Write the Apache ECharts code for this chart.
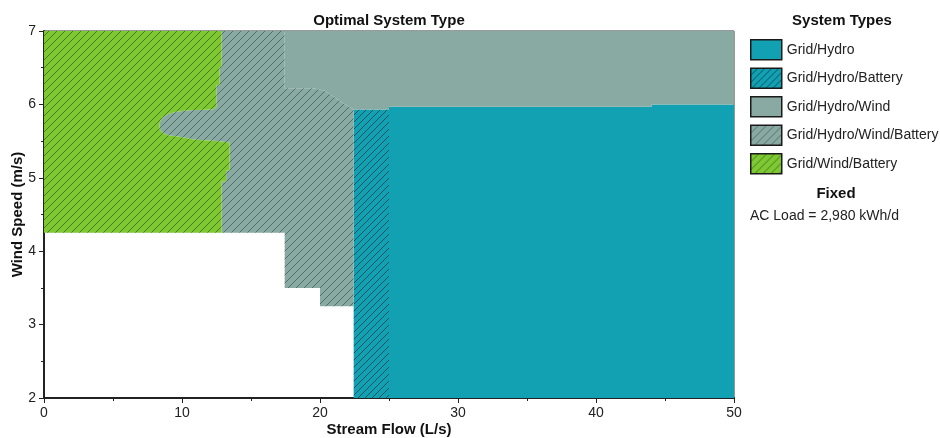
<!DOCTYPE html>
<html><head><meta charset="utf-8">
<script src="https://cdn.jsdelivr.net/npm/echarts@6/dist/echarts.min.js"></script>
<style>html,body{margin:0;padding:0;background:#fff}#c{width:940px;height:438px}</style>
</head><body><div id="c"></div>
<script>
// ---- data (Stream Flow L/s, Wind Speed m/s) ----
const systemTypes = ['Grid/Hydro', 'Grid/Hydro/Battery', 'Grid/Hydro/Wind', 'Grid/Hydro/Wind/Battery', 'Grid/Wind/Battery'];
const xRange = [0, 50];
const yRange = [2, 7];
const xTickStep = 10;
const yTickStep = 1;
const fixedLabel = 'AC Load = 2,980 kWh/d';

const gridHydro = [[25.0,2],[25.0,5.967],[44.03,5.967],[44.03,6.0],[50,6.0],[50,2]];
const gridHydroBattery = [[22.44,2],[22.44,5.93],[25.0,5.93],[25.0,2]];
const gridHydroWind = [[17.44,7],[50,7],[50,6.0],[44.03,6.0],[44.03,5.967],[25.0,5.967],[25.0,5.93],[22.44,5.93],
  [22.2,5.96],[21.67,6.02],[20.94,6.11],[20.3,6.19],[19.5,6.22],[17.44,6.22]];
const gridWindBattery = [[0,4.25],[0,7],[12.87,7],[12.87,6.51],[12.73,6.51],[12.73,6.26],[12.49,6.26],[12.49,5.96],
  [12.2,5.93],[10.5,5.92],[9.6,5.9],[9.0,5.87],[8.6,5.82],[8.42,5.77],[8.35,5.72],[8.4,5.66],[8.6,5.61],[9.0,5.58],
  [9.8,5.56],[11.0,5.52],[12.5,5.5],[13.45,5.48],[13.45,5.1],[13.2,5.1],[13.2,4.95],[12.87,4.95],[12.87,4.25]];
const gridHydroWindBattery = [[12.87,7],[12.87,6.51],[12.73,6.51],[12.73,6.26],[12.49,6.26],[12.49,5.96],
  [12.2,5.93],[10.5,5.92],[9.6,5.9],[9.0,5.87],[8.6,5.82],[8.42,5.77],[8.35,5.72],[8.4,5.66],[8.6,5.61],[9.0,5.58],
  [9.8,5.56],[11.0,5.52],[12.5,5.5],[13.45,5.48],[13.45,5.1],[13.2,5.1],[13.2,4.95],[12.87,4.95],[12.87,4.25],
  [17.44,4.25],[17.44,3.5],[20,3.5],[20,3.25],[22.44,3.25],[22.44,5.93],
  [22.2,5.96],[21.67,6.02],[20.94,6.11],[20.3,6.19],[19.5,6.22],[17.44,6.22],[17.44,7]];

// ---- styles ----
const FONT = '"Liberation Sans", Arial, sans-serif';
const BLUE = '#12A0B3', GRAY = '#89AAA2', GREEN = '#7EC832';
function hatch(base, line, s) {
  const c = document.createElement('canvas');
  c.width = s; c.height = s;
  const g = c.getContext('2d');
  g.fillStyle = base; g.fillRect(0, 0, s, s);
  g.strokeStyle = line; g.lineWidth = 1;
  g.beginPath();
  for (let k = -1; k <= 1; k++) { g.moveTo(k * s - 1, s + 1); g.lineTo(k * s + s + 1, -1); }
  g.stroke();
  return { image: c, repeat: 'repeat' };
}
const fills = {
  'Grid/Hydro': BLUE,
  'Grid/Hydro/Battery': hatch(BLUE, 'rgba(0,40,50,0.65)', 7),
  'Grid/Hydro/Wind': GRAY,
  'Grid/Hydro/Wind/Battery': hatch(GRAY, 'rgba(30,50,45,0.5)', 8),
  'Grid/Wind/Battery': hatch(GREEN, 'rgba(30,60,20,0.55)', 8)
};
const regions = {
  'Grid/Hydro': gridHydro,
  'Grid/Hydro/Battery': gridHydroBattery,
  'Grid/Hydro/Wind': gridHydroWind,
  'Grid/Hydro/Wind/Battery': gridHydroWindBattery,
  'Grid/Wind/Battery': gridWindBattery
};

const series = systemTypes.map(name => ({
  name, type: 'custom', clip: true, silent: true,
  itemStyle: { color: fills[name] },
  encode: { x: 0, y: 1 },
  data: regions[name],
  renderItem: (params, api) => {
    if (params.dataIndex !== 0) return null;
    return {
      type: 'polygon',
      shape: { points: regions[name].map(p => api.coord(p)) },
      style: { fill: fills[name], stroke: null }
    };
  }
}));

const chart = echarts.init(document.getElementById('c'), null, { renderer: 'canvas' });
chart.setOption({
  animation: false,
  backgroundColor: '#fff',
  grid: { left: 44, right: 206, top: 31, bottom: 40, containLabel: false, outerBoundsMode: 'none',
          show: true, borderColor: '#333', borderWidth: 1, backgroundColor: 'transparent' },
  xAxis: {
    type: 'value', min: xRange[0], max: xRange[1], interval: xTickStep,
    name: 'Stream Flow (L/s)', nameLocation: 'middle', nameGap: 24, nameMoveOverlap: false,
    nameTextStyle: { fontFamily: FONT, fontSize: 15, fontWeight: 'bold', color: '#111' },
    axisLine: { show: true, onZero: false, lineStyle: { color: '#222', width: 2 } },
    axisTick: { show: true, inside: false, length: 5, lineStyle: { color: '#222' } },
    minorTick: { show: true, splitNumber: 2, length: 3, lineStyle: { color: '#222' } },
    splitLine: { show: false },
    axisLabel: { fontFamily: FONT, fontSize: 14, color: '#222', margin: 8 }
  },
  yAxis: {
    type: 'value', min: yRange[0], max: yRange[1], interval: yTickStep,
    name: 'Wind Speed (m/s)', nameLocation: 'middle', nameGap: 19, nameMoveOverlap: false,
    nameTextStyle: { fontFamily: FONT, fontSize: 15, fontWeight: 'bold', color: '#111' },
    axisLine: { show: true, onZero: false, lineStyle: { color: '#222', width: 2 } },
    axisTick: { show: true, inside: false, length: 5, lineStyle: { color: '#222' } },
    minorTick: { show: true, splitNumber: 2, length: 3, lineStyle: { color: '#222' } },
    splitLine: { show: false },
    axisLabel: { fontFamily: FONT, fontSize: 14, color: '#222', margin: 8 }
  },
  legend: {
    data: systemTypes, orient: 'vertical', left: 750, top: 39,
    itemWidth: 31, itemHeight: 20, itemGap: 7, padding: 0, icon: 'rect',
    selectedMode: false,
    itemStyle: { borderColor: '#1a1a1a', borderWidth: 1.5 },
    textStyle: { fontFamily: FONT, fontSize: 14, color: '#222' }
  },
  graphic: [
    { type: 'text', x: 389, y: 21, silent: true, style: { text: 'Optimal System Type', font: 'bold 15px ' + FONT, fill: '#111', align: 'center', verticalAlign: 'middle' } },
    { type: 'text', x: 842, y: 21, silent: true, style: { text: 'System Types', font: 'bold 15px ' + FONT, fill: '#111', align: 'center', verticalAlign: 'middle' } },
    { type: 'text', x: 836, y: 194, silent: true, style: { text: 'Fixed', font: 'bold 15px ' + FONT, fill: '#111', align: 'center', verticalAlign: 'middle' } },
    { type: 'text', x: 750, y: 216, silent: true, style: { text: fixedLabel, font: '14px ' + FONT, fill: '#222', align: 'left', verticalAlign: 'middle' } }
  ],
  series
});
</script></body></html>
